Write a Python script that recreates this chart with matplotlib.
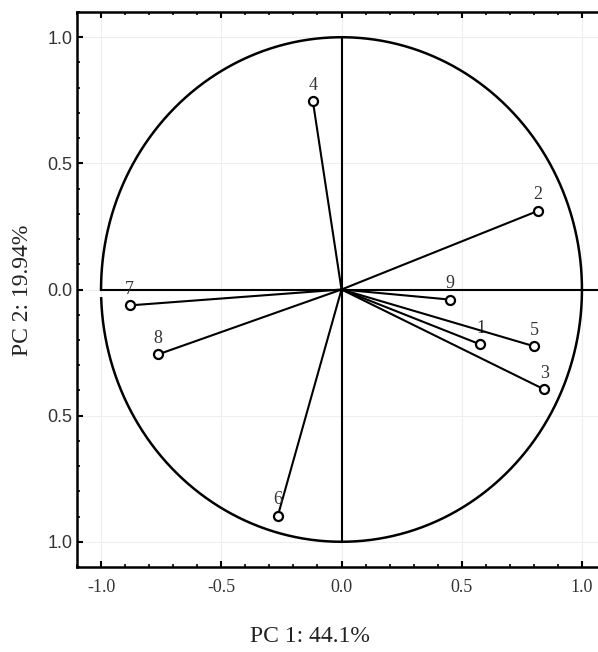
import numpy as np
import matplotlib
matplotlib.use("Agg")
import matplotlib.pyplot as plt
from matplotlib.ticker import MultipleLocator, FixedLocator, FixedFormatter

labels = ["1", "2", "3", "4", "5", "6", "7", "8", "9"]
pc1 = [0.578, 0.818, 0.843, -0.119, 0.801, -0.265, -0.881, -0.762, 0.451]
pc2 = [-0.218, 0.312, -0.396, 0.746, -0.225, -0.898, -0.063, -0.257, -0.040]

xticks = [-1.0, -0.5, 0.0, 0.5, 1.0]
xticklabels = ["-1.0", "-0.5", "0.0", "0.5", "1.0"]
yticks = [1.0, 0.5, 0.0, -0.5, -1.0]
yticklabels = ["1.0", "0.5", "0.0", "0.5", "1.0"]
xlabel = "PC 1: 44.1%"
ylabel = "PC 2: 19.94%"

serif = ["Liberation Serif", "DejaVu Serif"]
sans = ["Liberation Sans", "DejaVu Sans"]

fig = plt.figure(figsize=(5.98, 6.52), dpi=100)
ax = fig.add_axes([77/598, 1 - 567/652, (606 - 77)/598, (567 - 12)/652])
ax.set_xlim(-1.1, 1.1)
ax.set_ylim(-1.1, 1.1)

# grid
for v in xticks:
    ax.axvline(v, color="#eeeeee", lw=0.8, zorder=0)
for v in yticks:
    ax.axhline(v, color="#eeeeee", lw=0.8, zorder=0)

# unit circle with small gap on the left just below y=0
th = np.linspace(np.pi + 0.035, 3 * np.pi, 600)
ax.plot(np.cos(th), np.sin(th), color="black", lw=1.8, zorder=2)

# axes lines through origin
ax.plot([-1.0, 1.2], [0, 0], color="black", lw=1.5, zorder=2)
ax.plot([0, 0], [-1.0, 1.0], color="black", lw=1.5, zorder=2)

# vectors
for lab, x, y in zip(labels, pc1, pc2):
    ax.plot([0, x], [0, y], color="black", lw=1.5, zorder=3)
    ax.plot([x], [y], marker="o", ms=6.5, mfc="white", mec="black", mew=1.6, zorder=4)
    ax.annotate(lab, (x, y), xytext=(0, 5.5), textcoords="offset points",
                ha="center", va="bottom", fontsize=13, family=serif, color="#333333")

# spines and ticks
ax.spines["right"].set_visible(False)
for s in ["left", "top", "bottom"]:
    ax.spines[s].set_linewidth(1.8)

ax.xaxis.set_major_locator(FixedLocator(xticks))
ax.xaxis.set_major_formatter(FixedFormatter(xticklabels))
ax.xaxis.set_minor_locator(MultipleLocator(0.1))
ax.yaxis.set_major_locator(FixedLocator(yticks))
ax.yaxis.set_major_formatter(FixedFormatter(yticklabels))
ax.yaxis.set_minor_locator(MultipleLocator(0.1))

ax.tick_params(axis="x", which="both", direction="in", top=True, bottom=True,
               labelbottom=True, labeltop=False, pad=9)
ax.tick_params(axis="y", which="both", direction="in", left=True, right=False, pad=3.5)
ax.tick_params(which="major", length=4, width=1.5)
ax.tick_params(which="minor", length=2.5, width=1.2)

for t in ax.get_xticklabels():
    t.set_family(serif)
    t.set_fontsize(13)
    t.set_color("#333333")
for t in ax.get_yticklabels():
    t.set_family(sans)
    t.set_fontsize(13)
    t.set_color("#333333")

fig.text(310/598, 1 - 637/652, xlabel, ha="center", va="center",
         fontsize=17, family=serif, color="#222222")
fig.text(22/598, 1 - 290/652, ylabel, ha="center", va="center", rotation=90,
         fontsize=17, family=serif, color="#222222")

fig.savefig("out.png", dpi=100)
